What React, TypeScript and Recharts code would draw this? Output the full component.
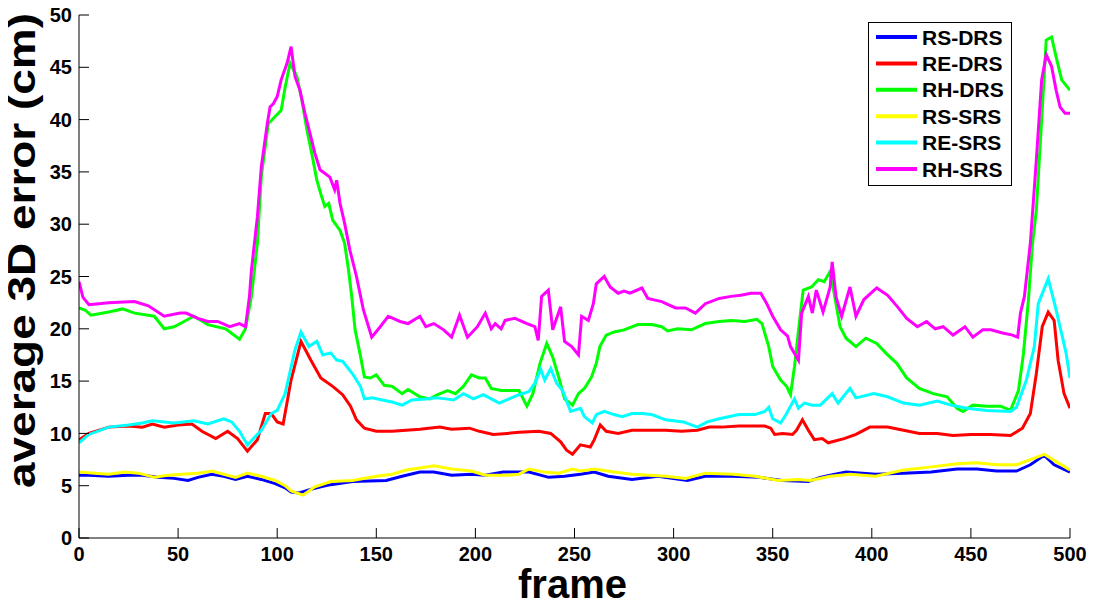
import React from 'react';
import { LineChart, Line, XAxis, YAxis, Legend, Label } from 'recharts';

// [frame, average 3D error (cm)]
const RS_DRS: [number, number][] = [[0,6.0],[5,6.0],[15,5.9],[25,6.0],[32,6.0],[40,5.8],[48,5.7],[55,5.5],[60,5.8],[67,6.1],[73,5.9],[79,5.6],[85,5.9],[92,5.6],[99,5.2],[104,4.8],[107,4.4],[111,4.3],[116,4.6],[122,4.9],[127,5.1],[138,5.4],[155,5.5],[163,5.9],[172,6.3],[179,6.3],[188,6.0],[198,6.1],[205,6.0],[214,6.3],[227,6.3],[237,5.8],[245,5.9],[253,6.1],[260,6.3],[267,5.9],[279,5.6],[292,5.9],[307,5.5],[316,5.9],[330,5.9],[343,5.8],[355,5.5],[368,5.4],[374,5.8],[379,6.0],[387,6.3],[402,6.1],[416,6.2],[430,6.3],[443,6.6],[453,6.6],[463,6.4],[473,6.4],[480,7.0],[487,7.9],[492,7.0],[500,6.3]];

const RE_DRS: [number, number][] = [[0,9.4],[5,10.0],[15,10.6],[25,10.7],[32,10.6],[37,10.9],[43,10.6],[50,10.8],[57,10.9],[62,10.2],[69,9.5],[75,10.2],[80,9.5],[85,8.3],[90,9.4],[94,11.9],[97,11.9],[100,11.1],[103,10.9],[107,15.1],[112,18.8],[117,17.0],[122,15.3],[128,14.5],[133,13.7],[137,12.6],[140,11.3],[144,10.5],[150,10.2],[158,10.2],[165,10.3],[172,10.4],[182,10.6],[188,10.4],[197,10.5],[202,10.2],[209,9.9],[216,10.0],[222,10.1],[232,10.2],[238,10.0],[243,9.2],[246,8.4],[249,8.0],[253,8.9],[258,8.7],[260,9.4],[263,10.8],[266,10.2],[272,10.0],[279,10.3],[287,10.3],[296,10.3],[304,10.2],[312,10.3],[318,10.6],[324,10.6],[333,10.7],[339,10.7],[346,10.7],[349,10.5],[351,9.9],[355,10.0],[360,9.9],[362,10.3],[365,11.3],[368,10.3],[371,9.4],[375,9.5],[378,9.1],[386,9.5],[392,9.9],[399,10.6],[408,10.6],[416,10.3],[424,10.0],[433,10.0],[441,9.8],[450,9.9],[460,9.9],[470,9.8],[476,10.5],[480,11.9],[483,15.7],[486,20.2],[489,21.6],[492,20.8],[494,17.0],[497,13.8],[500,12.4]];

const RH_DRS: [number, number][] = [[0,22.0],[3,21.8],[6,21.3],[15,21.6],[22,21.9],[28,21.5],[38,21.2],[43,20.0],[48,20.2],[53,20.7],[58,21.2],[65,20.4],[74,20.0],[81,19.0],[84,20.0],[87,23.1],[90,28.2],[92,34.6],[95.5,39.6],[99,40.3],[102,40.9],[104,43.1],[106.5,45.4],[110,44.1],[112.4,41.9],[115,39.0],[117.4,36.8],[120,34.2],[122,32.9],[124,31.7],[126,32.0],[128,30.4],[131.7,29.4],[134,28.2],[136,25.6],[137.6,23.1],[139.3,19.9],[141.8,17.6],[144,15.4],[147,15.3],[150,15.6],[154,14.6],[158,14.5],[163,13.8],[166,14.2],[172,13.5],[177,13.3],[181,13.7],[186,14.1],[190,13.8],[194,14.5],[198,15.6],[202,15.3],[205,15.3],[208,14.3],[213,14.1],[219,14.1],[222,14.1],[226,12.6],[229,13.8],[232.6,16.7],[236,18.6],[239,17.3],[242,15.4],[245,13.3],[249,12.7],[252,13.8],[255,14.3],[258.6,15.4],[261,16.7],[262.8,18.3],[266,19.4],[270,19.7],[275,19.9],[282,20.4],[289,20.4],[294,20.2],[297,19.8],[302,20.0],[309,19.9],[316,20.5],[323,20.7],[329,20.8],[336,20.7],[342,20.9],[344.6,20.5],[348,18.3],[350,16.4],[354,15.1],[357,14.5],[359,13.7],[361,16.4],[364,21.5],[365.4,23.7],[369.6,24.0],[373,24.7],[376,24.5],[379,25.5],[381,23.4],[384,20.2],[387,19.1],[392,18.3],[397,19.1],[402.5,18.6],[407.5,17.6],[412.6,16.7],[417.6,15.3],[424,14.3],[431,13.8],[438,13.5],[443,12.4],[446,12.1],[451,12.7],[458,12.6],[465,12.6],[470,12.2],[474,14.1],[476.5,17.6],[479,22.7],[481,28.0],[483,31.3],[485.7,40.0],[488,47.6],[490.7,47.9],[493,46.0],[495.8,43.8],[500,42.8]];

const RS_SRS: [number, number][] = [[0,6.3],[8,6.2],[15,6.1],[23,6.3],[30,6.2],[38,5.8],[45,6.0],[52,6.1],[60,6.2],[67,6.4],[73,6.1],[79,5.8],[85,6.2],[92,5.9],[99,5.5],[104,5.0],[107,4.5],[113,4.1],[119,4.9],[127,5.4],[138,5.5],[150,5.9],[158,6.1],[165,6.5],[172,6.7],[179,6.9],[188,6.6],[198,6.4],[205,6.0],[216,6.0],[222,6.1],[227,6.6],[235,6.3],[242,6.2],[249,6.6],[253,6.4],[260,6.6],[270,6.3],[279,6.1],[296,5.9],[306,5.7],[316,6.2],[330,6.1],[341,5.9],[353,5.5],[363,5.6],[369,5.5],[379,5.9],[389,6.1],[402,5.9],[416,6.5],[430,6.8],[443,7.1],[453,7.2],[463,7.0],[473,7.0],[480,7.5],[487,8.0],[493,7.3],[500,6.5]];

const RE_SRS: [number, number][] = [[0,9.1],[5,9.9],[15,10.6],[25,10.8],[32,11.0],[37,11.2],[48,11.0],[58,11.2],[65,10.9],[73,11.4],[77,11.1],[81,10.2],[85,8.9],[92,10.3],[97,11.9],[100,12.2],[104,13.8],[109,18.0],[112,19.7],[116,18.3],[120,18.8],[123,17.5],[127,17.7],[130,17.0],[133,16.9],[138,15.7],[142,14.5],[144,13.3],[148,13.4],[153,13.2],[158,13.0],[163,12.7],[168,13.2],[175,13.3],[180,13.4],[185,13.3],[189,13.2],[194,13.8],[199,13.3],[204,13.7],[209,13.2],[212,12.9],[217,13.3],[222,13.7],[227,14.0],[230,14.8],[233,16.1],[235,15.1],[238,16.2],[241,14.8],[244,14.1],[248,12.1],[253,12.4],[255,11.6],[259,11.0],[261,11.8],[265,12.1],[270,11.8],[274,11.6],[279,11.9],[284,11.9],[289,11.8],[296,11.3],[305,11.1],[312,10.6],[317,11.1],[323,11.4],[333,11.8],[341,11.8],[346,12.1],[348,12.5],[350,11.4],[354,11.0],[357,11.9],[361,13.3],[363,12.4],[366,12.9],[370,12.7],[374,12.7],[380,13.8],[383,12.9],[389,14.3],[392,13.4],[401,13.8],[408,13.5],[416,12.9],[424,12.7],[433,13.1],[440,12.7],[448,12.4],[458,12.2],[470,12.1],[473,12.5],[478,15.1],[482,18.3],[484,22.4],[489,24.8],[493,21.8],[498,17.7],[500,15.3]];

const RH_SRS: [number, number][] = [[0,24.5],[2,23.0],[5,22.3],[15,22.5],[28,22.6],[35,22.2],[43,21.2],[51,21.5],[54,21.5],[60,21.0],[65,20.7],[70,20.7],[76,20.2],[81,20.5],[84,20.2],[86,23.1],[87,25.6],[90,30.7],[92,35.5],[95,39.6],[96.4,41.2],[98,41.5],[100,42.2],[102,43.8],[105,45.4],[107,46.97],[109,44.1],[111.5,42.8],[114,40.6],[116.5,38.7],[119,36.8],[121.6,35.2],[126.6,34.5],[129,33.3],[130,34.2],[131.7,32.0],[134,30.1],[136.7,27.5],[140,25.0],[143.5,21.8],[147.7,19.2],[152,20.2],[156,21.2],[162,20.7],[166,20.5],[172,21.2],[175,20.2],[179,20.5],[184,19.9],[188,19.2],[192,21.3],[196,19.2],[201,20.2],[205,21.5],[208,20.0],[210,20.5],[213,20.0],[215,20.8],[220,21.0],[226,20.5],[230,20.2],[231.7,18.9],[233.4,23.1],[236.8,23.7],[239,19.9],[243,22.1],[245,18.8],[248.6,18.3],[252,17.5],[253.6,21.2],[257,20.8],[259.5,22.4],[261,24.3],[265,25.0],[268,24.0],[272,23.4],[275,23.6],[278,23.4],[284,23.9],[287,22.9],[294,22.6],[301,22.0],[306,22.0],[311,21.5],[316,22.4],[323,22.9],[329,23.1],[334,23.2],[339,23.4],[344,23.4],[347,22.4],[350,21.2],[354,19.9],[357.5,19.3],[359,18.3],[363,17.0],[364.6,21.5],[368,23.1],[370,21.5],[372,23.7],[375.4,21.6],[379,24.0],[380,26.4],[382,23.0],[384.8,21.2],[389,24.0],[392,21.2],[396,22.8],[402.5,23.9],[408,23.2],[413,22.1],[417.6,21.0],[423,20.2],[427.6,20.7],[432,20.0],[436,20.2],[441,19.4],[447,20.2],[451,19.2],[456,19.9],[460,19.9],[466,19.6],[471,19.4],[473.6,19.2],[475,21.5],[477,23.1],[480,28.2],[483,36.1],[485.7,43.8],[488,46.2],[490.7,45.1],[493,42.8],[495,41.2],[497.5,40.6],[500,40.6]];

const SERIES_NAMES = ['RS-DRS', 'RE-DRS', 'RH-DRS', 'RS-SRS', 'RE-SRS', 'RH-SRS'];
const SERIES_DATA = [RS_DRS, RE_DRS, RH_DRS, RS_SRS, RE_SRS, RH_SRS];
const SERIES_COLORS = ['#0000ff', '#ff0000', '#00ff00', '#ffff00', '#00ffff', '#ff00ff'];

const X_TICKS = [0, 50, 100, 150, 200, 250, 300, 350, 400, 450, 500];
const Y_TICKS = [0, 5, 10, 15, 20, 25, 30, 35, 40, 45, 50];
const X_LABEL = 'frame';
const Y_LABEL = 'average 3D error (cm)';

const FONT = "'Liberation Sans', Arial, Helvetica, sans-serif";

const toPoints = (arr: [number, number][]) => arr.map(([frame, v]) => ({ frame, v }));

const LegendBox = () => (
  <svg width={144} height={164} style={{ display: 'block' }}>
    <rect x={0.5} y={0.5} width={143} height={163} fill="#fff" stroke="#000" strokeWidth={1} />
    {SERIES_NAMES.map((name, i) => {
      const cy = 15 + i * 26.4;
      return (
        <g key={name}>
          <line x1={8} x2={49} y1={cy} y2={cy} stroke={SERIES_COLORS[i]} strokeWidth={4} />
          <text x={54} y={cy} dy="0.36em" fontSize={21} fontWeight="bold" fontFamily={FONT} fill="#000">
            {name}
          </text>
        </g>
      );
    })}
  </svg>
);

const XLabelContent = () => (
  <text x={564.5} y={590} textAnchor="middle" fontSize={41} fontWeight="bold" fontFamily={FONT} fill="#000"
    textLength={109} lengthAdjust="spacingAndGlyphs">
    {X_LABEL}
  </text>
);

const YLabelContent = () => (
  <text x={27} y={242.5} transform="rotate(-90 27 242.5)" textAnchor="middle" fontSize={38} fontWeight="bold"
    fontFamily={FONT} fill="#000" textLength={475} lengthAdjust="spacingAndGlyphs">
    {Y_LABEL}
  </text>
);

export default function App() {
  const tickStyle = { fontSize: 20, fontWeight: 'bold', fill: '#000', fontFamily: FONT };
  return (
    <div style={{ width: 1080, height: 594 }}>
      <LineChart width={1080} height={594} margin={{ top: 7, right: 18, left: 11, bottom: 34 }}>
        <XAxis
          type="number"
          dataKey="frame"
          domain={[0, 500]}
          ticks={X_TICKS}
          interval={0}
          height={30}
          tickSize={-10}
          tickMargin={19}
          stroke="#000"
          tick={tickStyle}
          allowDataOverflow
        >
          <Label content={<XLabelContent />} />
        </XAxis>
        <YAxis
          type="number"
          domain={[0, 50]}
          ticks={Y_TICKS}
          interval={0}
          width={60}
          tickSize={-10}
          tickMargin={17}
          stroke="#000"
          tick={tickStyle}
          allowDataOverflow
        >
          <Label content={<YLabelContent />} />
        </YAxis>
        {SERIES_DATA.map((arr, i) => (
          <Line
            key={SERIES_NAMES[i]}
            data={toPoints(arr)}
            dataKey="v"
            name={SERIES_NAMES[i]}
            type="linear"
            stroke={SERIES_COLORS[i]}
            strokeWidth={3}
            dot={false}
            activeDot={false}
            isAnimationActive={false}
          />
        ))}
        <Legend
          layout="horizontal"
          align="center"
          verticalAlign="middle"
          content={() => <LegendBox />}
          wrapperStyle={{ left: 860, top: 14, width: 144, height: 164 }}
        />
      </LineChart>
    </div>
  );
}
